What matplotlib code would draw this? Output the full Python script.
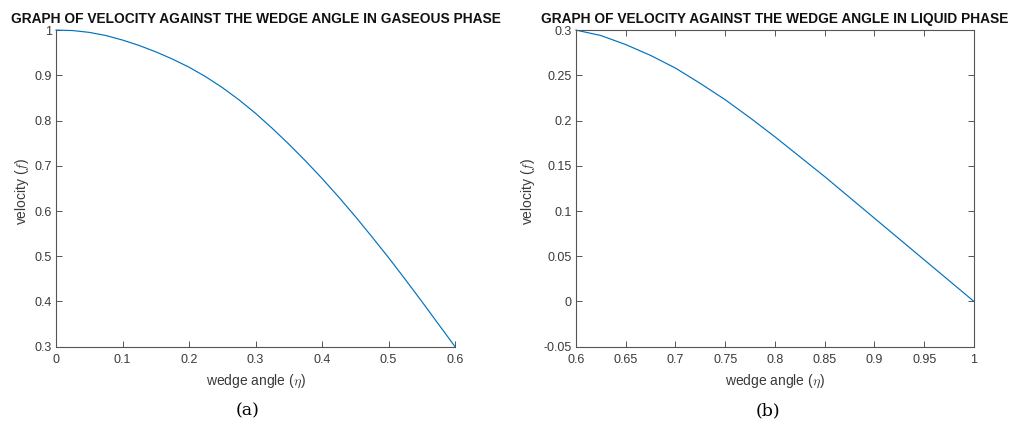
import matplotlib
matplotlib.use("Agg")
import matplotlib.pyplot as plt

plt.rcParams['font.family'] = ['Liberation Sans', 'DejaVu Sans']
plt.rcParams['mathtext.fontset'] = 'cm'

# Gaseous phase (panel a)
eta_gas = [0.0, 0.025, 0.05, 0.075, 0.1, 0.125, 0.15, 0.175, 0.2, 0.225, 0.25, 0.275,
           0.3, 0.325, 0.35, 0.375, 0.4, 0.425, 0.45, 0.475, 0.5, 0.525, 0.55, 0.575, 0.6]
f_gas = [1.000, 0.999, 0.995, 0.988, 0.978, 0.966, 0.952, 0.936, 0.918, 0.897, 0.873, 0.846,
         0.816, 0.783, 0.748, 0.711, 0.672, 0.631, 0.588, 0.543, 0.497, 0.449, 0.400, 0.350, 0.300]

# Liquid phase (panel b)
eta_liq = [0.6, 0.625, 0.65, 0.675, 0.7, 0.725, 0.75, 0.775, 0.8, 0.825, 0.85, 0.875,
           0.9, 0.925, 0.95, 0.975, 1.0]
f_liq = [0.300, 0.294, 0.284, 0.272, 0.258, 0.241, 0.223, 0.203, 0.182, 0.160, 0.138, 0.115,
         0.092, 0.069, 0.046, 0.023, 0.000]

gas_xticks = [0, 0.1, 0.2, 0.3, 0.4, 0.5, 0.6]
gas_yticks = [0.3, 0.4, 0.5, 0.6, 0.7, 0.8, 0.9, 1.0]
liq_xticks = [0.6, 0.65, 0.7, 0.75, 0.8, 0.85, 0.9, 0.95, 1.0]
liq_yticks = [-0.05, 0, 0.05, 0.1, 0.15, 0.2, 0.25, 0.3]

title_a = "GRAPH OF VELOCITY AGAINST THE WEDGE ANGLE IN GASEOUS PHASE"
title_b = "GRAPH OF VELOCITY AGAINST THE WEDGE ANGLE IN LIQUID PHASE"

line_color = '#0072BD'
axis_color = '#555555'
text_color = '#3a3a3a'

fig = plt.figure(figsize=(10.11, 4.21), dpi=100)
ax1 = fig.add_axes([0.0554, 0.1765, 0.3947, 0.752])
ax2 = fig.add_axes([0.5697, 0.1765, 0.3937, 0.752])

def fmt(v):
    return '%g' % v

for ax, x, y, xt, yt, title, box, ylx in [
    (ax1, eta_gas, f_gas, gas_xticks, gas_yticks, title_a, False, -0.062),
    (ax2, eta_liq, f_liq, liq_xticks, liq_yticks, title_b, True, -0.097),
]:
    ax.plot(x, y, color=line_color, lw=0.85, clip_on=False)
    ax.set_xlim(xt[0], xt[-1])
    ax.set_ylim(yt[0], yt[-1])
    ax.set_xticks(xt)
    ax.set_yticks(yt)
    ax.set_xticklabels([fmt(v) for v in xt])
    ax.set_yticklabels([fmt(v) for v in yt])
    ax.tick_params(direction='in', length=4, width=0.7, color=axis_color,
                   labelsize=9, labelcolor=text_color, top=box, right=box)
    ax.tick_params(axis='x', pad=5)
    ax.tick_params(axis='y', pad=3)
    for side in ['left', 'bottom', 'top', 'right']:
        ax.spines[side].set_color(axis_color)
        ax.spines[side].set_linewidth(0.8)
    if not box:
        ax.spines['top'].set_visible(False)
        ax.spines['right'].set_visible(False)
    ax.set_title(title, fontsize=9.9, fontweight='bold', color='#111111', pad=5)
    ax.set_xlabel(r'wedge angle ($\eta$)', fontsize=10, color=text_color, labelpad=5)
    ax.set_ylabel(r'velocity ($f$)', fontsize=10, color=text_color)
    ax.yaxis.set_label_coords(ylx, 0.49)

fig.text(0.2450, 0.024, '(a)', fontsize=12.5, family='DejaVu Serif', ha='center', va='center')
fig.text(0.7597, 0.024, '(b)', fontsize=12.5, family='DejaVu Serif', ha='center', va='center')

fig.savefig('out.png', dpi=100, facecolor='white')
